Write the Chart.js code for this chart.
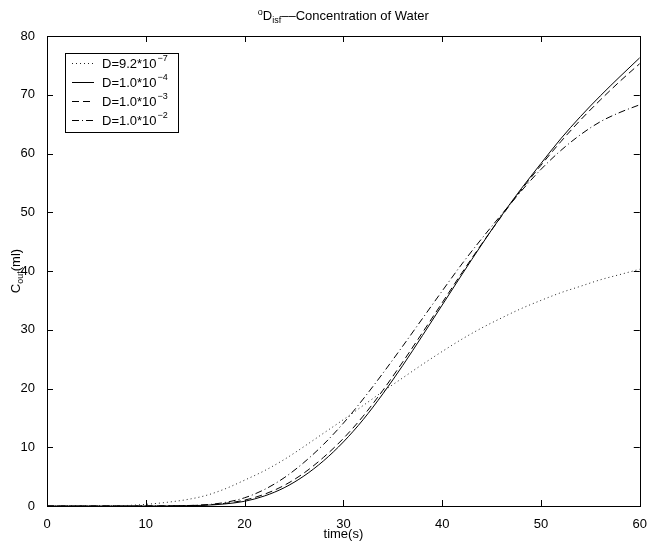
<!DOCTYPE html>
<html>
<head>
<meta charset="utf-8">
<script src="https://cdn.jsdelivr.net/npm/chart.js@4.4.0/dist/chart.umd.min.js"></script>
<style>
html, body { margin: 0; padding: 0; background: #fff; }
#wrap { width: 650px; height: 548px; }
</style>
</head>
<body>
<div id="wrap"><canvas id="chart" width="650" height="548"></canvas></div>
<script>
'use strict';

// time axis (s), one sample every 2 s
var timeS = [0, 2, 4, 6, 8, 10, 12, 14, 16, 18, 20, 22, 24, 26, 28, 30,
             32, 34, 36, 38, 40, 42, 44, 46, 48, 50, 52, 54, 56, 58, 60];

// C_out (ml)
var cD92e7 = [0, 0, 0, 0.01, 0.08, 0.28, 0.6, 1.05, 1.75, 2.9, 4.4, 6.0, 7.9, 10.1, 12.4, 14.7,
              17.1, 19.5, 21.8, 24.1, 26.3, 28.4, 30.3, 32.0, 33.6, 35.0, 36.3, 37.4, 38.5, 39.4, 40.3];
var cD1e4 = [0, 0, 0, 0, 0, 0, 0.01, 0.04, 0.13, 0.35, 0.8, 1.7, 3.1, 5.1, 7.7, 10.9,
             14.7, 19.1, 23.9, 29.0, 34.2, 39.4, 44.5, 49.4, 54.0, 58.3, 62.5, 66.3, 69.8, 73.1, 76.3];
var cD1e3 = [0, 0, 0, 0, 0, 0, 0.02, 0.06, 0.18, 0.45, 1.0, 2.0, 3.5, 5.6, 8.3, 11.5,
             15.3, 19.7, 24.5, 29.5, 34.6, 39.7, 44.6, 49.3, 53.8, 58.0, 62.0, 65.7, 69.1, 72.3, 75.3];
var cD1e2 = [0, 0, 0, 0, 0, 0, 0.02, 0.07, 0.2, 0.6, 1.4, 2.8, 4.8, 7.4, 10.5, 14.1,
             18.2, 22.6, 27.2, 31.9, 36.6, 41.2, 45.5, 49.6, 53.6, 57.3, 60.5, 63.2, 65.4, 67.0, 68.3];

var legendBase = ['D=9.2*10', 'D=1.0*10', 'D=1.0*10', 'D=1.0*10'];
var legendExp = ['\u22127', '\u22124', '\u22123', '\u22122'];

var xTicks = [0, 10, 20, 30, 40, 50, 60];
var yTicks = [0, 10, 20, 30, 40, 50, 60, 70, 80];

var FONT = '"Liberation Sans", Arial, Helvetica, sans-serif';

function pairs(ys) {
    return timeS.map(function (t, i) { return { x: t, y: ys[i] }; });
}

function series(ys, dash, colour) {
    return {
        data: pairs(ys),
        borderColor: colour,
        borderWidth: 1,
        borderDash: dash,
        pointRadius: 0,
        fill: false,
        cubicInterpolationMode: 'monotone'
    };
}

// draws one piece of text, shifted up/down for super/subscripts; returns the new x
function piece(ctx, text, x, y, size, shift) {
    ctx.font = size + 'px ' + FONT;
    ctx.fillText(text, x, y + shift);
    return x + ctx.measureText(text).width;
}

function piecesWidth(ctx, parts) {
    var w = 0;
    parts.forEach(function (p) { ctx.font = p[1] + 'px ' + FONT; w += ctx.measureText(p[0]).width; });
    return w;
}

var matlabBox = {
    id: 'matlabBox',
    afterDraw: function (chart) {
        var ctx = chart.ctx;
        var a = chart.chartArea;
        var sx = chart.scales.x, sy = chart.scales.y;
        var tick = 6;

        ctx.save();
        ctx.strokeStyle = '#000';
        ctx.lineWidth = 1;
        ctx.setLineDash([]);
        ctx.strokeRect(Math.round(a.left) + 0.5, Math.round(a.top) + 0.5,
                       Math.round(a.right - a.left), Math.round(a.bottom - a.top));

        // inward ticks on all four sides
        ctx.beginPath();
        xTicks.forEach(function (v) {
            var px = Math.round(sx.getPixelForValue(v)) + 0.5;
            ctx.moveTo(px, a.bottom); ctx.lineTo(px, a.bottom - tick);
            ctx.moveTo(px, a.top); ctx.lineTo(px, a.top + tick);
        });
        yTicks.forEach(function (v) {
            var py = Math.round(sy.getPixelForValue(v)) + 0.5;
            ctx.moveTo(a.left, py); ctx.lineTo(a.left + tick, py);
            ctx.moveTo(a.right, py); ctx.lineTo(a.right - tick, py);
        });
        ctx.stroke();

        ctx.fillStyle = '#000';
        ctx.textBaseline = 'alphabetic';
        ctx.textAlign = 'left';

        // title: °D_isf--Concentration of Water
        var parts = [['o', 9, -5], ['D', 13, 0], ['isf', 9, 3], ['\u2013\u2013Concentration of Water', 13, 0]];
        var tx = (a.left + a.right) / 2 - piecesWidth(ctx, parts) / 2;
        parts.forEach(function (p) { tx = piece(ctx, p[0], tx, 20, p[1], p[2]); });

        // x label
        ctx.font = '13px ' + FONT;
        ctx.textAlign = 'center';
        ctx.fillText('time(s)', (a.left + a.right) / 2, 538);

        // y label: C_out(ml)
        ctx.save();
        ctx.translate(20, sy.getPixelForValue(40));
        ctx.rotate(-Math.PI / 2);
        ctx.textAlign = 'left';
        var yl = [['C', 13, 0], ['out', 9, 3], ['(ml)', 13, 0]];
        var lx = -piecesWidth(ctx, yl) / 2;
        yl.forEach(function (p) { lx = piece(ctx, p[0], lx, 0, p[1], p[2]); });
        ctx.restore();

        // legend
        var bx = 65, by = 53, bw = 113, bh = 79;
        ctx.fillStyle = '#fff';
        ctx.fillRect(bx, by, bw, bh);
        ctx.strokeStyle = '#000';
        ctx.strokeRect(bx + 0.5, by + 0.5, bw, bh);
        chart.data.datasets.forEach(function (ds, i) {
            var ly = by + 10 + i * 19 + 0.5;
            ctx.strokeStyle = ds.borderColor;
            ctx.setLineDash(ds.borderDash);
            ctx.beginPath();
            ctx.moveTo(bx + 7, ly);
            ctx.lineTo(bx + 29, ly);
            ctx.stroke();
            ctx.setLineDash([]);
            ctx.fillStyle = '#000';
            ctx.textAlign = 'left';
            var ex = piece(ctx, legendBase[i], bx + 37, ly + 4.5, 13, 0);
            piece(ctx, legendExp[i], ex + 1, ly + 4.5, 9, -7);
        });
        ctx.restore();
    }
};

new Chart(document.getElementById('chart'), {
    type: 'line',
    data: {
        datasets: [
            series(cD92e7, [1, 3], '#222'),
            series(cD1e4, [], '#000'),
            series(cD1e3, [7, 4], '#000'),
            series(cD1e2, [7, 3, 1, 3], '#000')
        ]
    },
    options: {
        responsive: false,
        animation: false,
        layout: { autoPadding: false, padding: { top: 36, right: 7, bottom: 0, left: 0 } },
        plugins: { legend: { display: false }, title: { display: false }, tooltip: { enabled: false } },
        scales: {
            x: {
                type: 'linear', min: 0, max: 60,
                grid: { display: false }, border: { display: false },
                ticks: { stepSize: 10, color: '#000', padding: 3, maxRotation: 0, font: { family: FONT, size: 13 } },
                afterFit: function (s) { s.height = 42; }
            },
            y: {
                type: 'linear', min: 0, max: 80,
                grid: { display: false }, border: { display: false },
                ticks: { stepSize: 10, color: '#000', padding: 4, font: { family: FONT, size: 13 } },
                afterFit: function (s) { s.width = 47; }
            }
        }
    },
    plugins: [matlabBox]
});
</script>
</body>
</html>
